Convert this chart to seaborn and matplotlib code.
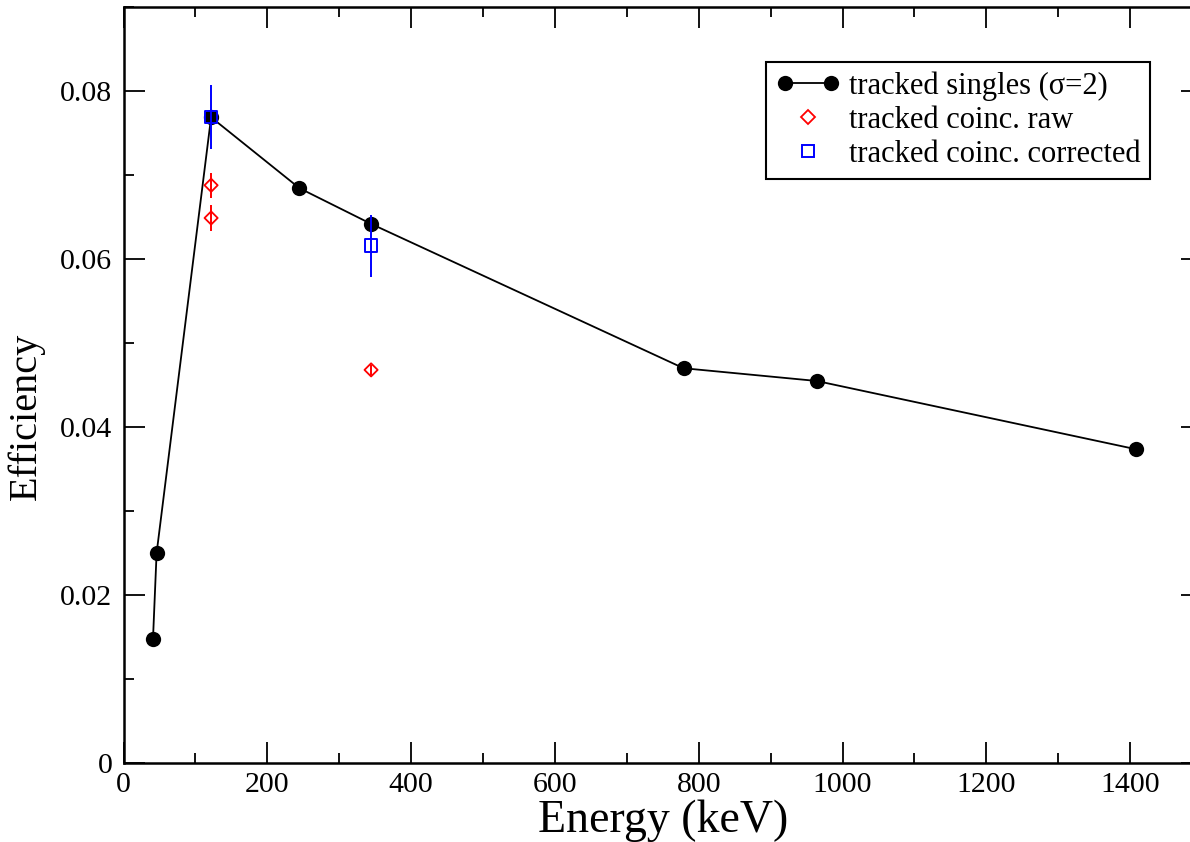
import matplotlib
matplotlib.use("Agg")
import matplotlib.pyplot as plt
import seaborn as sns
from matplotlib.lines import Line2D
from matplotlib.legend_handler import HandlerLine2D
from matplotlib.ticker import MultipleLocator

# ---- data ----
singles_energy = [41, 46, 121.8, 244.7, 344.3, 778.9, 964.1, 1408.0]
singles_eff = [0.01476, 0.02496, 0.0769, 0.06845, 0.0642, 0.0470, 0.04548, 0.03735]
singles_err = [0.0002, 0.0002, 0.0002, 0.0004, 0.0003, 0.0002, 0.0002, 0.0002]

raw_energy = [121.8, 121.8, 344.3]
raw_eff = [0.0688, 0.0649, 0.0468]
raw_err = [0.0015, 0.0016, 0.0006]

corr_energy = [121.8, 344.3]
corr_eff = [0.0769, 0.0616]
corr_err = [0.0038, 0.0037]

xticks = [0, 200, 400, 600, 800, 1000, 1200, 1400]
yticks = [0, 0.02, 0.04, 0.06, 0.08]
yticklabels = ["0", "0.02", "0.04", "0.06", "0.08"]
labels = ['tracked singles (σ=2)', 'tracked coinc. raw', 'tracked coinc. corrected']

sns.set_style("ticks")
plt.rcParams['font.family'] = ['Liberation Serif', 'DejaVu Serif']
plt.rcParams['text.color'] = 'black'
plt.rcParams['axes.labelcolor'] = 'black'
plt.rcParams['xtick.color'] = 'black'
plt.rcParams['ytick.color'] = 'black'

fig = plt.figure(figsize=(11.9, 8.42), dpi=100)
ax = fig.add_axes([0.1038, 0.0942, 0.9063, 0.8971])

# singles: line + filled circles
ax.errorbar(singles_energy, singles_eff, yerr=singles_err, fmt='none', ecolor='black', elinewidth=1.2, zorder=2)
sns.lineplot(x=singles_energy, y=singles_eff, sort=False, color='black', lw=1.3,
             marker='o', markersize=11, markeredgewidth=0, ax=ax, zorder=3)

# raw coincidences: red open diamonds
ax.errorbar(raw_energy, raw_eff, yerr=raw_err, fmt='none', ecolor='red', elinewidth=1.4, zorder=4)
sns.scatterplot(x=raw_energy, y=raw_eff, marker='D', s=45, color='red', facecolor='none',
                edgecolor='red', linewidth=1.3, ax=ax, zorder=5)

# corrected coincidences: blue open squares
ax.errorbar(corr_energy, corr_eff, yerr=corr_err, fmt='none', ecolor='blue', elinewidth=1.4, zorder=6)
sns.scatterplot(x=corr_energy, y=corr_eff, marker='s', s=80, color='blue', facecolor='none',
                edgecolor='blue', linewidth=1.4, ax=ax, zorder=7)

ax.set_xlim(0, 1500)
ax.set_ylim(0, 0.09)
ax.set_xticks(xticks)
ax.set_yticks(yticks)
ax.set_yticklabels(yticklabels)
ax.xaxis.set_minor_locator(MultipleLocator(100))
ax.yaxis.set_minor_locator(MultipleLocator(0.01))
ax.tick_params(which='both', direction='in', top=True, right=True, width=1.3, labelsize=21.5)
ax.tick_params(which='major', length=15)
ax.tick_params(which='minor', length=7.5)
ax.tick_params(axis='x', pad=7)
ax.tick_params(axis='y', pad=8)
for s in ax.spines.values():
    s.set_visible(True)
    s.set_linewidth(1.8)
    s.set_color('black')

ax.set_xlabel('Energy (keV)', fontsize=33, labelpad=1)
ax.set_ylabel('Efficiency', fontsize=29)
ax.yaxis.set_label_coords(-0.073, 0.458)

h1 = Line2D([], [], color='black', lw=1.3, marker='o', markersize=11, markeredgewidth=0)
h2 = Line2D([], [], ls='none', marker='D', markersize=7, markerfacecolor='none',
            markeredgecolor='red', markeredgewidth=1.3)
h3 = Line2D([], [], ls='none', marker='s', markersize=8, markerfacecolor='none',
            markeredgecolor='blue', markeredgewidth=1.4)
leg = ax.legend([h1, h2, h3], labels,
                handler_map={h1: HandlerLine2D(numpoints=2), h2: HandlerLine2D(numpoints=1),
                             h3: HandlerLine2D(numpoints=1)},
                loc='upper right', bbox_to_anchor=(0.952, 0.928), fontsize=22, frameon=True,
                fancybox=False, framealpha=1, edgecolor='black', handlelength=2.1,
                handletextpad=0.3, labelspacing=0.16, borderpad=0.32, borderaxespad=0)
leg.get_frame().set_linewidth(1.5)

fig.savefig('out.png', dpi=100)
